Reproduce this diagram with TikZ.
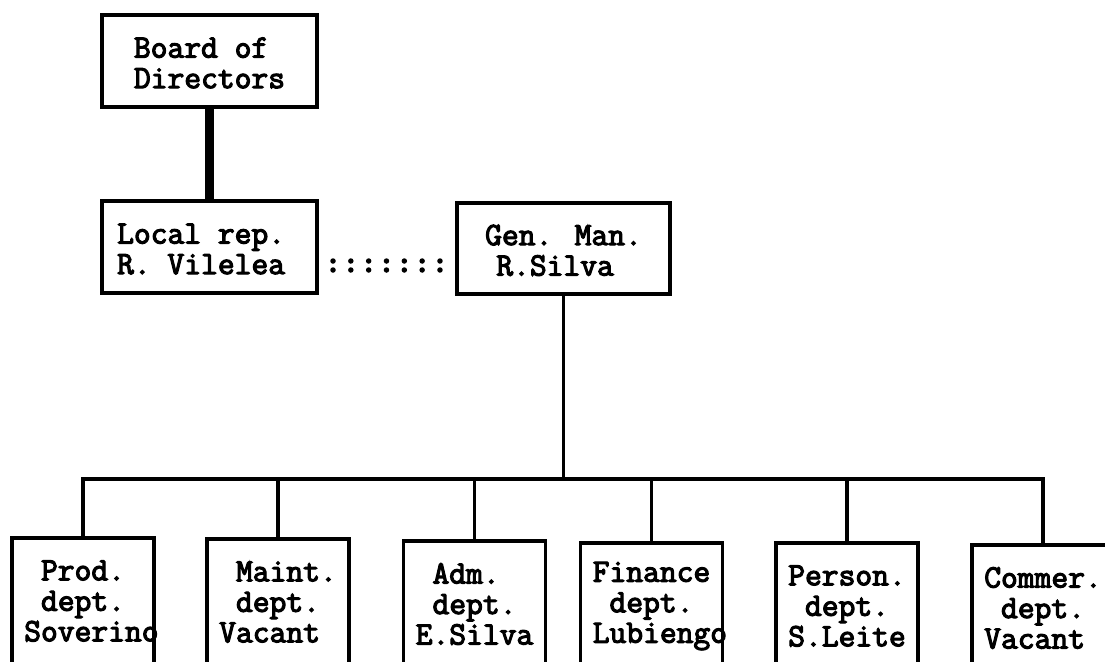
\documentclass[tikz,border=0pt]{standalone}
\usepackage{fontspec}
\newfontfamily\chartfont{Latin Modern Mono}[FakeBold=3.5]
\usetikzlibrary{calc}
% one blank character cell, used to indent a line inside a field
\newcommand\pd{\hphantom{0}}
% a line set flush left in a field of #1 character cells
\newcommand\fl[2]{\makebox[#1\fontcharwd\font`0][l]{#2}}
% extra head room above the first line of a box
\newcommand\lift{\rule{0pt}{24pt}}

\begin{document}
\begin{tikzpicture}[x=1pt,y=-1pt,
  every node/.style={font=\chartfont\fontsize{32.6}{30.5}\selectfont},
  box/.style={draw, line width=3.5pt, inner sep=0pt, outer sep=0pt, align=center},
  topbox/.style={box, minimum width=215pt, minimum height=92pt},
  deptbox/.style={box, anchor=north, minimum width=142pt, minimum height=126pt},
  link/.style={line width=3.5pt},
  strong/.style={line width=8.5pt},
  colons/.style={line width=5.5pt, line cap=round, dash pattern=on 0pt off 17.83pt}]
\useasboundingbox (0,0) rectangle (1105,661);
\clip (0,0) rectangle (1105,661);

% upper level
\node[topbox, align=left] (board) at (209.5,61) {\lift Board of\\Directors};
\node[topbox] (lr) at (209.5,247) {\lift\fl{11}{Local rep.}\\\fl{11}{R. Vilelea}};
\node[topbox, minimum width=213pt, minimum height=91pt] (gm) at (563.5,248.5) {\lift Gen. Man.\\R.Silva\pd};

% departments
\node[deptbox] (prod)   at (83,538)    {\fl7{\pd Prod.}\\\fl7{\pd dept.}\\\fl7{Soverino}};
\node[deptbox] (maint)  at (278,539)   {\fl7{\pd Maint.}\\\fl7{\pd dept.}\\\fl7{Vacant}};
\node[deptbox] (adm)    at (474.5,541) {\fl7{\pd Adm.}\\\fl7{\pd dept.}\\\fl7{E.Silva}};
\node[deptbox] (fin)    at (651.5,543) {\fl7{Finance}\\\fl7{\pd dept.}\\\fl7{Lubiengo}};
\node[deptbox] (pers)   at (847,543)   {\fl7{Person.}\\\fl7{\pd dept.}\\\fl7{S.Leite}};
\node[deptbox] (commer) at (1043,545)  {\fl7{Commer.}\\\fl7{\pd dept.}\\\fl7{Vacant}};

% connectors
\draw[strong] (board) -- (lr);
\draw[colons] ($(lr.east)+(16,14)$) -- ($(lr.east -| gm.west)+(-17,14)$);
\draw[colons] ($(lr.east)+(16,23)$) -- ($(lr.east -| gm.west)+(-17,23)$);

\coordinate (bus) at (565,479);
\draw[link] (gm.south) -- (gm.south |- bus);
\draw[link] (prod.north) -- (prod.north |- bus) -- (commer.north |- bus) -- (commer.north);
\foreach \d in {maint, adm, fin, pers}
  \draw[link] (\d.north) -- (\d.north |- bus);
\end{tikzpicture}
\end{document}
